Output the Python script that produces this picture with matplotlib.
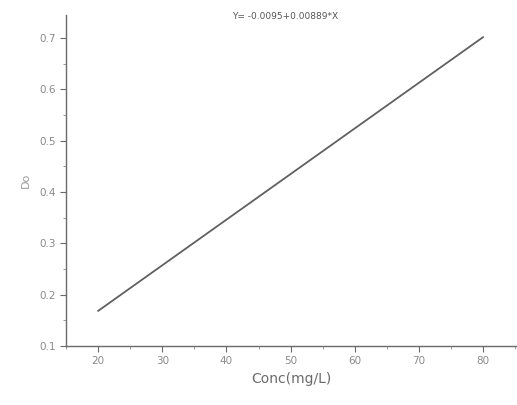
import numpy as np
import matplotlib
matplotlib.use("Agg")
import matplotlib.pyplot as plt
from matplotlib.ticker import MultipleLocator

# Data
conc = [20, 80]
intercept = -0.0095
slope = 0.00889
absorb = [intercept + slope * c for c in conc]
x_ticks = [20, 30, 40, 50, 60, 70, 80]
y_ticks = [0.1, 0.2, 0.3, 0.4, 0.5, 0.6, 0.7]
equation = "Y= -0.0095+0.00889*X"

fig = plt.figure(figsize=(5.17, 4.05), dpi=100)
ax = fig.add_axes([0.128, 0.146, 0.872, 0.817])

tc = "#8a8a8a"
ax.plot(conc, absorb, color="#606060", lw=1.3)
ax.set_xlim(15, 85.3)
ax.set_ylim(0.1, 0.745)
ax.set_xticks(x_ticks)
ax.set_yticks(y_ticks)
ax.xaxis.set_minor_locator(MultipleLocator(5))
ax.yaxis.set_minor_locator(MultipleLocator(0.05))
for s in ["top", "right"]:
    ax.spines[s].set_visible(False)
for s in ["left", "bottom"]:
    ax.spines[s].set_color("#6a6a6a")
    ax.spines[s].set_linewidth(1.0)
ax.tick_params(axis="both", which="major", direction="out", length=4, color="#6a6a6a",
               labelsize=7.5, labelcolor=tc)
ax.tick_params(axis="both", which="minor", direction="out", length=2, color="#8a8a8a")
ax.set_xlabel("Conc(mg/L)", fontsize=10, color="#6a6a6a", labelpad=4)
ax.set_ylabel("Do", fontsize=8, color="#9a9a9a", labelpad=6)
ax.text(0.485, 0.995, equation, transform=ax.transAxes, ha="center", va="center",
        fontsize=6.5, color="#555555")

fig.savefig("out.png", dpi=100)
